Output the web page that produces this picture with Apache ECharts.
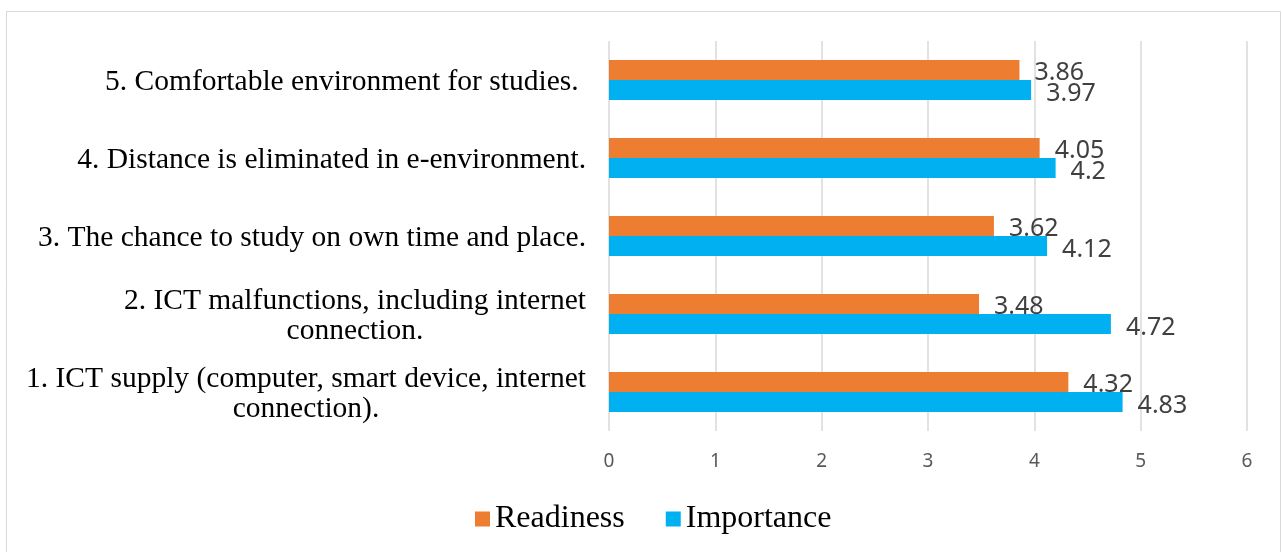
<!DOCTYPE html>
<html>
<head>
<meta charset="utf-8">
<script src="https://cdn.jsdelivr.net/npm/echarts@6/dist/echarts.min.js"></script>
<style>
  html, body { margin: 0; padding: 0; background: #ffffff; }
  #chart { width: 1282px; height: 552px; }
</style>
</head>
<body>
<div id="chart"></div>
<script>
// Survey items, bottom to top
const categories = [
  '1. ICT supply (computer, smart device, internet\nconnection).',
  '2. ICT malfunctions, including internet\nconnection.',
  '3. The chance to study on own time and place.',
  '4. Distance is eliminated in e-environment.',
  '5. Comfortable environment for studies. '
];
const readiness = [4.32, 3.48, 3.62, 4.05, 3.86];
const importance = [4.83, 4.72, 4.12, 4.2, 3.97];
const xTicks = [0, 1, 2, 3, 4, 5, 6];

const chart = echarts.init(document.getElementById('chart'));

const valueLabel = {
  show: true,
  position: 'right',
  distance: 15,
  fontFamily: 'Noto Sans',
  fontSize: 25,
  color: '#404040'
};

chart.setOption({
  animation: false,
  backgroundColor: '#ffffff',
  graphic: [{
    type: 'rect',
    shape: { x: 6.5, y: 11.5, width: 1274, height: 560 },
    style: { fill: 'none', stroke: '#d9d9d9', lineWidth: 1 },
    silent: true
  }],
  grid: { left: 609, right: 35, top: 41, bottom: 121, containLabel: false },
  legend: {
    data: ['Readiness', 'Importance'],
    bottom: 12,
    left: 470,
    itemWidth: 15,
    itemHeight: 15,
    itemGap: 41,
    itemTextGap: 9,
    icon: 'rect',
    textStyle: { fontFamily: 'Liberation Serif', fontSize: 32, color: '#000000' }
  },
  xAxis: {
    type: 'value',
    min: xTicks[0],
    max: xTicks[xTicks.length - 1],
    interval: 1,
    axisLine: { show: false },
    axisTick: { show: false },
    splitLine: { lineStyle: { color: '#d9d9d9', width: 1.5 } },
    axisLabel: { margin: 21, fontFamily: 'Noto Sans', fontSize: 19, color: '#595959' }
  },
  yAxis: {
    type: 'category',
    data: categories,
    axisLine: { show: false },
    axisTick: { show: false },
    axisLabel: {
      margin: 23,
      align: 'right',
      fontFamily: 'Liberation Serif',
      fontSize: 29.5,
      lineHeight: 30,
      color: '#000000',
      // each line centred inside the right-aligned label block
      formatter: (v) => v.split('\n').map((s) => '{c|' + s + '}').join('\n'),
      rich: {
        c: {
          align: 'center',
          fontFamily: 'Liberation Serif',
          fontSize: 29.5,
          lineHeight: 30,
          color: '#000000',
          padding: [4, 0, 0, 0]
        }
      }
    }
  },
  series: [
    {
      name: 'Readiness',
      type: 'bar',
      data: readiness,
      barWidth: 20,
      barGap: '0%',
      itemStyle: { color: '#ed7d31' },
      label: Object.assign({}, valueLabel, { offset: [0, 3] })
    },
    {
      name: 'Importance',
      type: 'bar',
      data: importance,
      barWidth: 20,
      barGap: '0%',
      itemStyle: { color: '#00b0f0' },
      label: Object.assign({}, valueLabel, { offset: [0, 4] })
    }
  ]
});
</script>
</body>
</html>
